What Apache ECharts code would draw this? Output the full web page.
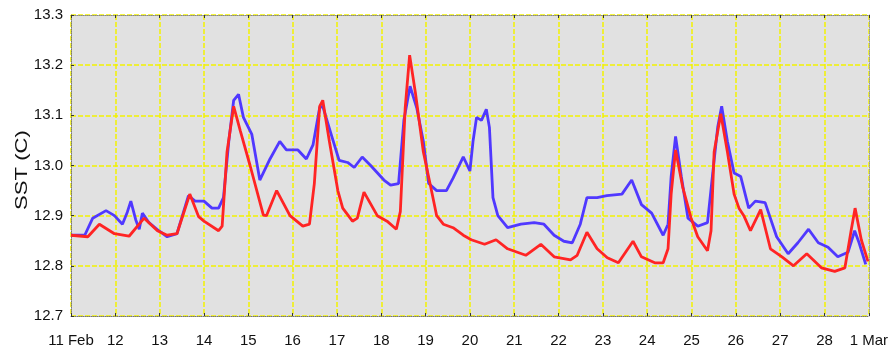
<!DOCTYPE html>
<html>
<head>
<meta charset="utf-8">
<script src="https://cdn.jsdelivr.net/npm/echarts@6/dist/echarts.min.js"></script>
<style>
html,body{margin:0;padding:0;background:#fff;}
#chart{width:891px;height:353px;}
</style>
</head>
<body>
<div id="chart"></div>
<script>
// x positions are days after 11 Feb 00:00
const xTickLabels = ['11 Feb','12','13','14','15','16','17','18','19','20','21','22','23','24','25','26','27','28','1 Mar'];
const yTicks = [12.7, 12.8, 12.9, 13.0, 13.1, 13.2, 13.3];

const blueDays = [0.00,0.31,0.49,0.79,0.98,1.16,1.27,1.35,1.46,1.54,1.61,1.76,1.98,2.17,2.39,2.65,2.80,3.00,3.18,3.33,3.44,3.56,3.67,3.78,3.89,4.08,4.26,4.49,4.71,4.86,5.12,5.31,5.46,5.61,5.68,5.87,6.05,6.24,6.39,6.57,6.76,7.06,7.21,7.39,7.51,7.65,7.80,7.95,8.07,8.25,8.47,8.62,8.85,9.00,9.07,9.15,9.26,9.37,9.44,9.52,9.63,9.85,10.15,10.45,10.67,10.90,11.12,11.31,11.49,11.64,11.87,12.09,12.43,12.65,12.87,13.10,13.36,13.47,13.54,13.64,13.77,13.92,14.14,14.36,14.47,14.59,14.68,14.81,14.96,15.11,15.29,15.44,15.66,15.92,16.18,16.40,16.64,16.86,17.08,17.30,17.53,17.68,17.78,17.93];
const blueSST = [12.861,12.861,12.895,12.910,12.900,12.883,12.907,12.929,12.892,12.873,12.905,12.886,12.870,12.858,12.864,12.940,12.929,12.929,12.915,12.915,12.936,13.048,13.130,13.142,13.096,13.062,12.971,13.013,13.048,13.031,13.031,13.013,13.041,13.115,13.118,13.062,13.010,13.006,12.996,13.017,13.000,12.971,12.961,12.964,13.090,13.158,13.115,13.048,12.964,12.950,12.950,12.975,13.017,12.989,13.048,13.096,13.090,13.112,13.076,12.936,12.900,12.876,12.883,12.886,12.883,12.861,12.849,12.846,12.883,12.936,12.936,12.940,12.943,12.971,12.922,12.905,12.861,12.883,12.978,13.058,12.978,12.895,12.879,12.886,12.978,13.076,13.118,13.048,12.985,12.978,12.915,12.929,12.926,12.858,12.824,12.846,12.873,12.846,12.837,12.818,12.827,12.870,12.846,12.803];

const redDays = [0.00,0.38,0.64,0.98,1.31,1.65,1.95,2.17,2.39,2.68,2.88,3.00,3.33,3.41,3.52,3.67,3.82,4.04,4.34,4.41,4.64,4.94,5.23,5.38,5.49,5.61,5.68,5.83,6.02,6.13,6.35,6.46,6.61,6.91,7.13,7.34,7.43,7.54,7.64,7.77,7.95,8.10,8.25,8.40,8.62,8.85,9.03,9.33,9.59,9.85,10.26,10.60,10.90,11.27,11.42,11.64,11.87,12.10,12.35,12.68,12.87,13.17,13.36,13.47,13.54,13.64,13.80,13.99,14.14,14.36,14.44,14.51,14.66,14.81,14.96,15.07,15.18,15.33,15.56,15.78,16.04,16.30,16.60,16.93,17.23,17.46,17.60,17.69,17.83,17.98];
const redSST = [12.861,12.858,12.883,12.864,12.859,12.895,12.870,12.861,12.864,12.943,12.898,12.889,12.870,12.879,13.027,13.118,13.069,13.000,12.901,12.900,12.950,12.900,12.879,12.883,12.964,13.118,13.130,13.048,12.950,12.915,12.889,12.895,12.947,12.900,12.889,12.873,12.908,13.115,13.220,13.145,13.027,12.964,12.900,12.883,12.876,12.861,12.852,12.843,12.852,12.834,12.821,12.843,12.818,12.812,12.821,12.867,12.834,12.816,12.806,12.849,12.818,12.806,12.806,12.834,12.943,13.031,12.957,12.895,12.858,12.830,12.870,13.027,13.103,13.027,12.943,12.915,12.900,12.870,12.912,12.834,12.818,12.800,12.824,12.796,12.789,12.796,12.870,12.915,12.852,12.809];

const FONT = "'Liberation Sans',Arial,sans-serif";
const pair = (xs, ys) => xs.map((x, i) => [x, ys[i]]);

const chart = echarts.init(document.getElementById('chart'), null, {renderer: 'canvas'});
const gridLine = {show: true, lineStyle: {color: '#f2f200', width: 1.5, type: [5, 2]}};
chart.setOption({
  animation: false,
  backgroundColor: '#ffffff',
  grid: {left: 71, top: 15, right: 15, bottom: 37, show: true, backgroundColor: '#e1e1e1', borderWidth: 0},
  xAxis: [{
    type: 'value', min: 0, max: xTickLabels.length - 1, interval: 1,
    axisLine: {show: true, onZero: false, lineStyle: {color: '#777', type: 'dotted', width: 1}},
    axisTick: {show: true, inside: true, length: 3, lineStyle: {color: '#333'}},
    axisLabel: {margin: 17, fontFamily: FONT, fontSize: 15, color: '#111', formatter: v => xTickLabels[Math.round(v)]},
    splitLine: gridLine
  }, {
    type: 'value', position: 'top', min: 0, max: xTickLabels.length - 1, interval: 1,
    axisLine: {show: true, onZero: false, lineStyle: {color: '#888', type: 'dotted', width: 1}},
    axisTick: {show: true, inside: true, length: 3, lineStyle: {color: '#333'}},
    axisLabel: {show: false}, splitLine: {show: false}
  }],
  yAxis: [{
    type: 'value', min: yTicks[0], max: yTicks[yTicks.length - 1], interval: 0.1,
    axisLine: {show: true, onZero: false, lineStyle: {color: '#777', type: 'dotted', width: 1}},
    axisTick: {show: true, inside: true, length: 3, lineStyle: {color: '#333'}},
    axisLabel: {margin: 8, fontFamily: FONT, fontSize: 15, color: '#111', formatter: v => v.toFixed(1)},
    splitLine: gridLine
  }, {
    type: 'value', position: 'right', min: yTicks[0], max: yTicks[yTicks.length - 1], interval: 0.1,
    axisLine: {show: true, onZero: false, lineStyle: {color: '#999', type: 'dotted', width: 1}},
    axisTick: {show: false}, axisLabel: {show: false}, splitLine: {show: false}
  }],
  graphic: [{
    type: 'text', x: 22, y: 170, rotation: Math.PI / 2, scaleX: 1.3,
    style: {text: 'SST (C)', font: "17px " + FONT, fill: '#111', align: 'center', verticalAlign: 'middle'}
  }],
  series: [{
    type: 'line', data: pair(blueDays, blueSST), showSymbol: false, smooth: false,
    lineStyle: {color: '#5038ff', width: 2.8}, z: 2
  }, {
    type: 'line', data: pair(redDays, redSST), showSymbol: false, smooth: false,
    lineStyle: {color: '#ff2424', width: 2.8}, z: 3
  }]
});
</script>
</body>
</html>
